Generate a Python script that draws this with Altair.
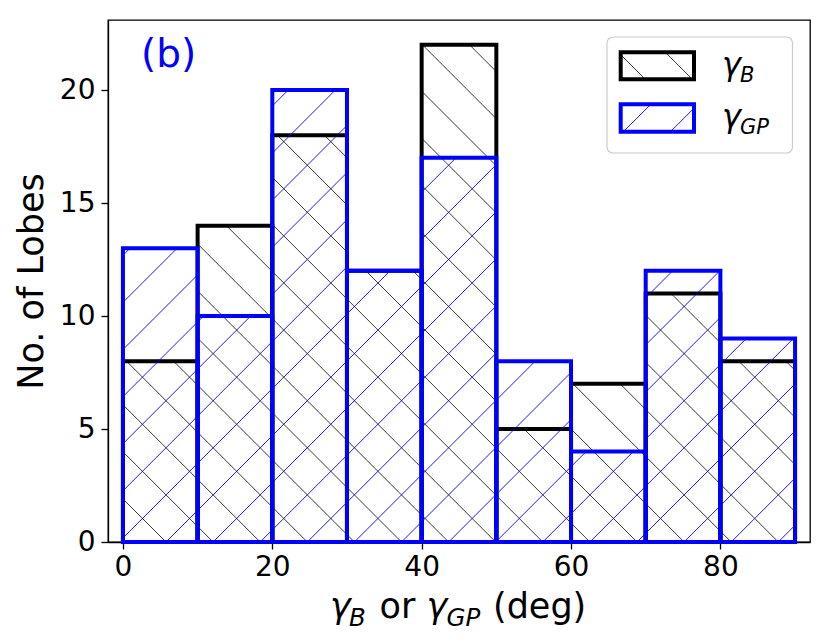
import altair as alt
import numpy as np
import pandas as pd

# ---------------- data ----------------
bin_left = [0, 10, 20, 30, 40, 50, 60, 70, 80]
bin_width = 10
gamma_b = [8, 14, 18, 12, 22, 5, 7, 11, 8]
gamma_gp = [13, 10, 20, 12, 17, 8, 4, 12, 9]

x_ticks = [0, 20, 40, 60, 80]
y_ticks = [0, 5, 10, 15, 20]
x_domain = [-2, 92]
y_domain = [0, 23.1]
y_title = "No. of Lobes"
panel_label = "(b)"

BLACK = "#000000"
BLUE = "#0000ff"
EDGE_W = 4.0

# ---------------- layout ----------------
W, H = 702, 522
SX = W / (x_domain[1] - x_domain[0])
SY = H / (y_domain[1] - y_domain[0])

HATCH_STEP = 47.1
FWD_PHASE = 14.8   # "/" lines : u + w = phase + k*step (pixel space, w downward)
BACK_PHASE = 7.0   # "\" lines : u - w = phase + k*step


def hatch(ua, ub, wa, wb, kind):
    segs = []
    if kind == "/":
        kmin = int(np.floor((ua + wa - FWD_PHASE) / HATCH_STEP)) - 1
        kmax = int(np.ceil((ub + wb - FWD_PHASE) / HATCH_STEP)) + 1
        for k in range(kmin, kmax + 1):
            c = FWD_PHASE + k * HATCH_STEP
            s = max(ua, c - wb)
            e = min(ub, c - wa)
            if e - s > 0.5:
                segs.append((s, c - s, e, c - e))
    else:
        kmin = int(np.floor((ua - wb - BACK_PHASE) / HATCH_STEP)) - 1
        kmax = int(np.ceil((ub - wa - BACK_PHASE) / HATCH_STEP)) + 1
        for k in range(kmin, kmax + 1):
            c = BACK_PHASE + k * HATCH_STEP
            s = max(ua, c + wa)
            e = min(ub, c + wb)
            if e - s > 0.5:
                segs.append((s, s - c, e, e - c))
    return segs


def bar_hatch(values, kind):
    rows = []
    for left, h in zip(bin_left, values):
        ua = (left - x_domain[0]) * SX
        ub = (left + bin_width - x_domain[0]) * SX
        wa = H - h * SY
        wb = H
        for (u1, w1, u2, w2) in hatch(ua, ub, wa, wb, kind):
            rows.append({
                "x": x_domain[0] + u1 / SX, "y": (H - w1) / SY,
                "x2": x_domain[0] + u2 / SX, "y2": (H - w2) / SY,
            })
    return pd.DataFrame(rows)


def bars(values):
    return pd.DataFrame({
        "x": bin_left,
        "x2": [b + bin_width for b in bin_left],
        "y": [0] * len(values),
        "y2": values,
    })


xscale = alt.Scale(domain=x_domain, nice=False, zero=False)
yscale = alt.Scale(domain=y_domain, nice=False, zero=False)
xaxis = alt.Axis(values=x_ticks, title=None, labelPadding=4, grid=False)
yaxis = alt.Axis(values=y_ticks, title=y_title, labelPadding=6, grid=False,
                 titleAngle=270, titleX=-66, titleY=261, titleAlign="center",
                 titleBaseline="alphabetic", titleFontSize=35,
                 titleFont="DejaVu Sans", titleFontWeight="normal",
                 titleColor=BLACK)


def hatch_layer(values, kind, color, width):
    return alt.Chart(bar_hatch(values, kind)).mark_rule(
        color=color, strokeWidth=width
    ).encode(
        x=alt.X("x:Q", scale=xscale, axis=xaxis),
        y=alt.Y("y:Q", scale=yscale, axis=yaxis),
        x2="x2:Q", y2="y2:Q",
    )


def outline_layer(values, color):
    return alt.Chart(bars(values)).mark_rect(
        fillOpacity=0, stroke=color, strokeWidth=EDGE_W, strokeJoin="miter"
    ).encode(
        x=alt.X("x:Q", scale=xscale, axis=xaxis),
        y=alt.Y("y:Q", scale=yscale, axis=yaxis),
        x2="x2:Q", y2="y2:Q",
    )


# ---------------- legend (pixel space) ----------------
leg_box = pd.DataFrame({"x": [499], "x2": [684.5], "y": [17], "y2": [133]})
leg_patch_b = (512.7, 586.0, 32.3, 59.3)
leg_patch_gp = (512.7, 586.0, 84.3, 111.7)


def pix_hatch(rect, kind):
    rows = []
    for (u1, w1, u2, w2) in hatch(rect[0], rect[1], rect[2], rect[3], kind):
        rows.append({"x": u1, "y": w1, "x2": u2, "y2": w2})
    return pd.DataFrame(rows)


def pix_rect(rect):
    return pd.DataFrame({"x": [rect[0]], "x2": [rect[1]], "y": [rect[2]], "y2": [rect[3]]})


def px_enc(chart):
    return chart.encode(
        x=alt.X("x:Q", scale=None, axis=None),
        y=alt.Y("y:Q", scale=None, axis=None),
        x2="x2:Q", y2="y2:Q",
    )


legend_box = px_enc(alt.Chart(leg_box).mark_rect(
    fill="white", fillOpacity=0.8, stroke="#cccccc", strokeWidth=1.2, cornerRadius=6))
legend_hb = px_enc(alt.Chart(pix_hatch(leg_patch_b, "\\")).mark_rule(color="#222222", strokeWidth=0.9))
legend_ob = px_enc(alt.Chart(pix_rect(leg_patch_b)).mark_rect(
    fillOpacity=0, stroke=BLACK, strokeWidth=EDGE_W))
legend_hgp = px_enc(alt.Chart(pix_hatch(leg_patch_gp, "/")).mark_rule(color=BLUE, strokeWidth=0.9))
legend_ogp = px_enc(alt.Chart(pix_rect(leg_patch_gp)).mark_rect(
    fillOpacity=0, stroke=BLUE, strokeWidth=EDGE_W))

# ---------------- texts (pixel space) ----------------
italic_txt = pd.DataFrame({
    "t": ["γ", "B", "γ", "GP", "γ", "B", "γ", "GP"],
    "x": [614, 632, 614, 632, 222, 241, 318.5, 338.5],
    "y": [54.5, 61.5, 106.5, 113.5, 598, 606, 598, 606],
    "s": [32, 21, 32, 21, 35, 24.5, 35, 24.5],
    "c": [BLACK] * 8,
})
normal_txt = pd.DataFrame({
    "t": ["or", "(deg)", panel_label],
    "x": [271.5, 385, 33],
    "y": [598, 598, 46.5],
    "s": [35, 35, 39],
    "c": [BLACK, BLACK, BLUE],
})


def text_layer(df, style):
    return alt.Chart(df).mark_text(
        align="left", baseline="alphabetic", font="DejaVu Sans", fontStyle=style
    ).encode(
        x=alt.X("x:Q", scale=None, axis=None),
        y=alt.Y("y:Q", scale=None, axis=None),
        text="t:N",
        size=alt.Size("s:Q", scale=None, legend=None),
        color=alt.Color("c:N", scale=None, legend=None),
    )


chart = alt.layer(
    hatch_layer(gamma_b, "\\", "#222222", 0.9),
    outline_layer(gamma_b, BLACK),
    hatch_layer(gamma_gp, "/", BLUE, 0.9),
    outline_layer(gamma_gp, BLUE),
    legend_box, legend_hb, legend_ob, legend_hgp, legend_ogp,
    text_layer(italic_txt, "italic"),
    text_layer(normal_txt, "normal"),
).properties(
    width=W, height=H,
    padding={"left": 100, "top": 12, "right": 12, "bottom": 90},
    autosize=alt.AutoSizeParams(type="none"),
    background="white",
).configure_view(
    stroke=BLACK, strokeWidth=1.3
).configure_axis(
    domainColor=BLACK, domainWidth=1.3, tickColor=BLACK, tickWidth=1.3,
    tickSize=7, labelFont="DejaVu Sans", labelFontSize=28, labelColor=BLACK,
)

chart.save("out.html", embed_options={"renderer": "svg", "actions": False})
